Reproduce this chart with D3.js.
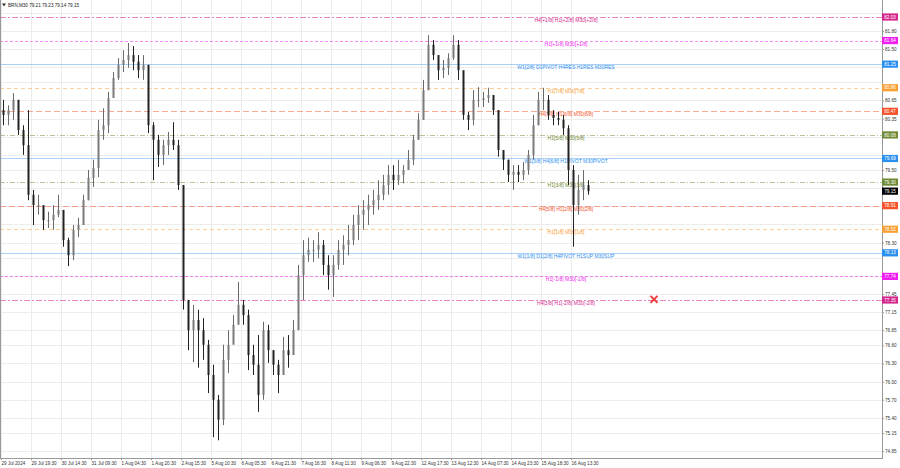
<!DOCTYPE html>
<html><head><meta charset="utf-8">
<script src="https://cdn.jsdelivr.net/npm/d3@7"></script>
<style>
html,body{margin:0;padding:0;background:#fff;}
svg{display:block;font-family:"Liberation Sans",Arial,sans-serif;}
</style></head><body>
<svg id="c" width="900" height="468"></svg>
<script>
// ---------------- DATA ----------------
const symbolTitle = "BRN,M30  79.21 79.23 79.14 79.15";
const highP = [80.66,80.57,80.77,80.66,80.24,80.49,79.17,79.09,78.84,78.81,78.92,79.09,78.59,78.38,78.59,78.71,79.09,79.50,79.67,80.33,
80.52,80.79,81.12,81.35,81.48,81.60,81.55,81.40,81.40,81.15,80.29,80.08,80.00,80.13,80.29,80.00,79.25,77.35,77.27,77.19,
77.05,76.69,76.28,75.78,76.61,76.85,77.10,77.65,77.35,77.19,76.61,76.77,76.99,76.94,76.52,76.36,76.74,76.77,77.02,77.93,
78.34,78.38,78.34,78.47,78.34,78.09,78.09,78.34,78.42,78.59,78.76,78.92,79.00,79.09,79.17,79.33,79.42,79.58,79.58,79.67,
79.58,79.83,80.08,80.44,80.99,81.73,81.65,81.40,81.32,81.43,81.73,81.65,81.07,80.46,80.82,80.87,80.79,80.86,80.66,80.49,
79.83,79.67,79.58,79.58,79.63,79.83,80.41,80.79,80.86,80.74,80.49,80.46,80.41,80.24,79.58,79.42,79.50,79.33];
const lowP = [80.24,80.24,80.33,80.08,79.75,79.00,78.59,78.76,78.51,78.54,78.51,78.72,78.23,77.91,78.01,78.39,78.67,79.00,79.22,79.38,
80.00,80.11,80.74,80.99,81.12,81.19,81.15,81.02,80.99,80.11,79.33,79.55,79.58,79.75,79.83,79.17,77.19,76.52,76.32,76.23,
76.36,75.81,75.08,75.03,75.28,76.14,76.69,77.02,76.94,76.19,76.11,75.50,75.70,76.31,76.11,75.81,76.19,76.23,76.52,77.02,
77.35,77.98,77.98,78.04,77.76,77.52,77.40,77.85,77.93,78.09,78.26,78.34,78.51,78.59,78.76,78.84,79.00,79.09,79.17,79.25,
79.28,79.50,79.58,80.00,80.33,80.82,81.32,80.99,81.02,81.07,81.32,80.99,80.33,80.16,80.24,80.54,80.54,80.61,80.41,79.72,
79.50,79.30,79.17,79.30,79.33,79.42,79.67,80.24,80.49,80.33,80.24,80.24,80.08,79.25,78.23,78.76,79.00,79.09];
const closeP = [80.41,80.49,80.66,80.16,79.91,79.09,78.92,78.92,78.67,78.67,78.76,78.84,78.34,78.09,78.51,78.59,79.00,79.37,79.53,80.16,
80.24,80.69,81.02,81.24,81.32,81.40,81.29,81.15,81.24,80.24,80.00,79.75,79.91,80.00,79.91,79.25,77.35,76.85,77.02,76.85,
76.61,76.11,75.70,75.37,76.36,76.61,76.94,77.27,77.10,76.44,76.28,75.78,76.85,76.52,76.28,76.11,76.52,76.44,76.85,77.76,
78.09,78.18,78.18,78.26,77.93,77.76,77.93,78.18,78.26,78.34,78.59,78.76,78.84,78.92,79.00,79.09,79.25,79.42,79.33,79.42,
79.50,79.67,80.00,80.33,80.82,81.57,81.40,81.15,81.19,81.35,81.57,81.15,80.41,80.33,80.66,80.66,80.69,80.74,80.49,79.83,
79.67,79.42,79.47,79.42,79.50,79.75,80.24,80.66,80.66,80.41,80.36,80.33,80.19,79.50,78.92,79.17,79.25,79.15];
const openP = [80.49].concat(closeP.slice(0, -1));

const timeLabels = ["29 Jul 2024","29 Jul 19:30","30 Jul 14:30","31 Jul 09:30","1 Aug 04:30","1 Aug 20:30","2 Aug 15:30",
"5 Aug 10:30","6 Aug 05:30","6 Aug 21:30","7 Aug 16:30","8 Aug 11:30","9 Aug 06:30","9 Aug 22:30","12 Aug 17:30",
"13 Aug 12:30","14 Aug 07:30","14 Aug 23:30","15 Aug 18:30","16 Aug 13:30"];
const timeSlots = [0,6,12,18,24,30,36,42,48,54,60,66,72,78,84,90,96,102,108,114];

const priceTicks = [82.10,81.80,81.50,81.20,80.95,80.65,80.35,80.05,79.75,79.50,79.20,78.90,78.60,78.30,78.05,77.75,
77.45,77.15,76.85,76.60,76.30,76.00,75.70,75.40,75.15,74.85];

const levelPrices = [82.03,81.64,81.25,80.86,80.47,80.08,79.69,79.30,78.91,78.52,78.13,77.74,77.35];
const levelTexts = ["H4[+1/8] H1[+2/8] M30[+2/8]","H1[+1/8] M30[+1/8]","W1[2/8] D1PIVOT H4RES H1RES M30RES",
"H1[7/8] M30[7/8]","H4[7/8] H1[6/8] M30[6/8]","H1[5/8] M30[5/8]","W1[3/8] H4[6/8] H1PIVOT M30PIVOT",
"H1[3/8] M30[3/8]","H4[5/8] H1[2/8] M30[2/8]","H1[1/8] M30[1/8]","W1[1/8] D1[2/8] H4PIVOT H1SUP M30SUP",
"H1[-1/8] M30[-1/8]","H4[3/8] H1[-2/8] M30[-2/8]"];
const levelKinds = ["pink","magenta","blue","orange","orangered","olive","blue","olive","orangered","orange","blue","magenta","pink"];

const lastPrice = 79.15;
const markerSlot = 130.6, markerPrice = 77.36;

// ---------------- STYLE ----------------
const kindStyle = {
  pink:     {c:"#d4278e", dash:"6,2,2,2", op:0.55},
  magenta:  {c:"#f01cf0", dash:"3,2", op:0.5},
  blue:     {c:"#2b8ff0", dash:null, op:0.4},
  orange:   {c:"#f7a033", dash:"4,3", op:0.5},
  orangered:{c:"#f4522a", dash:"6,3", op:0.5},
  olive:    {c:"#6f8a34", dash:"5,2,1,2", op:0.5}
};

const plotR = 882, plotB = 458;
const svg = d3.select("#c");

const x = d3.scaleLinear().domain([0, 176.2]).range([1, plotR]);
const y = d3.scaleLinear().domain([74.737, 82.311]).range([plotB, 0]);

// grid
const g = svg.append("g");
g.selectAll("line.hg").data(priceTicks).join("line")
  .attr("x1",0).attr("x2",plotR).attr("y1",d=>Math.round(y(d))+0.5).attr("y2",d=>Math.round(y(d))+0.5)
  .attr("stroke","#ececec").attr("stroke-width",1);
g.selectAll("line.vg").data(timeSlots).join("line")
  .attr("y1",0).attr("y2",plotB).attr("x1",d=>Math.round(x(d))+0.5).attr("x2",d=>Math.round(x(d))+0.5)
  .attr("stroke","#ececec").attr("stroke-width",1);

// level lines
const lv = svg.append("g");
levelPrices.forEach((p,i)=>{
  const s = kindStyle[levelKinds[i]];
  const yy = Math.round(y(p))+0.5;
  lv.append("line").attr("x1",0).attr("x2",plotR).attr("y1",yy).attr("y2",yy)
    .attr("stroke",s.c).attr("stroke-opacity",s.op).attr("stroke-width",1)
    .attr("stroke-dasharray",s.dash);
});

// candles
const idx = d3.range(closeP.length);
const cg = svg.append("g");
cg.selectAll("line.w").data(idx).join("line")
  .attr("x1",i=>x(i+0.5)).attr("x2",i=>x(i+0.5))
  .attr("y1",i=>y(highP[i])).attr("y2",i=>y(lowP[i]))
  .attr("stroke",i=>closeP[i]>=openP[i]?"#6a6a6a":"#222").attr("stroke-width",1);
cg.selectAll("rect.b").data(idx).join("rect")
  .attr("x",i=>x(i+0.5)-1).attr("width",2)
  .attr("y",i=>Math.min(y(openP[i]),y(closeP[i])))
  .attr("height",i=>Math.max(1,Math.abs(y(openP[i])-y(closeP[i]))))
  .attr("fill",i=>closeP[i]>=openP[i]?"#7a7a7a":"#222");

// level texts
lv.selectAll("text").data(levelPrices).join("text")
  .attr("x",566).attr("y",p=>y(p)+5)
  .attr("text-anchor","middle").attr("font-size",5)
  .attr("fill",(p,i)=>kindStyle[levelKinds[i]].c)
  .text((p,i)=>levelTexts[i]);

// frame
svg.append("line").attr("x1",0.5).attr("x2",0.5).attr("y1",0).attr("y2",plotB).attr("stroke","#999");
svg.append("line").attr("x1",plotR+0.5).attr("x2",plotR+0.5).attr("y1",0).attr("y2",plotB+1).attr("stroke","#999");
svg.append("line").attr("x1",0).attr("x2",plotR+1).attr("y1",plotB+0.5).attr("y2",plotB+0.5).attr("stroke","#999");

// price axis (labels hidden behind level boxes are not drawn, as in the terminal)
const boxPrices = levelPrices.concat([lastPrice]);
const visibleTicks = priceTicks.filter(t => boxPrices.every(b => Math.abs(y(b)-y(t)) > 6));
const ya = svg.append("g").attr("transform",`translate(${plotR},0)`)
  .call(d3.axisRight(y).tickValues(visibleTicks).tickFormat(d3.format(".2f")).tickSize(2).tickPadding(1));
ya.select(".domain").remove();
ya.selectAll("line").attr("stroke","#999");
ya.selectAll("text").attr("font-size",4.6).attr("fill","#333").attr("font-family","Liberation Sans, Arial, sans-serif");

// time axis
const xa = svg.append("g").attr("transform",`translate(0,${plotB})`)
  .call(d3.axisBottom(x).tickValues(timeSlots).tickFormat((d,i)=>timeLabels[i]).tickSize(2).tickPadding(1.5));
xa.select(".domain").remove();
xa.selectAll("line").attr("stroke","#999");
xa.selectAll("text").attr("font-size",4.6).attr("fill","#333").attr("text-anchor","start")
  .attr("font-family","Liberation Sans, Arial, sans-serif");

// level boxes
const bx = svg.append("g");
levelPrices.forEach((p,i)=>{
  const s = kindStyle[levelKinds[i]];
  const yy = y(p);
  bx.append("rect").attr("x",plotR).attr("y",yy-3.6).attr("width",16).attr("height",7.2).attr("fill",s.c);
  bx.append("text").attr("x",plotR+8).attr("y",yy+1.6).attr("text-anchor","middle")
    .attr("font-size",4.6).attr("fill","#fff").text(p.toFixed(2));
});
bx.append("rect").attr("x",plotR).attr("y",y(lastPrice)-3.6).attr("width",16).attr("height",7.2).attr("fill","#000");
bx.append("text").attr("x",plotR+8).attr("y",y(lastPrice)+1.6).attr("text-anchor","middle")
  .attr("font-size",4.6).attr("fill","#fff").text(lastPrice.toFixed(2));

// marker
const mx = x(markerSlot), my = y(markerPrice);
svg.append("path").attr("d",`M${mx-3.5},${my-3.5}L${mx+3.5},${my+3.5}M${mx+3.5},${my-3.5}L${mx-3.5},${my+3.5}`)
  .attr("stroke","#ee3b3b").attr("stroke-width",2);

// title
svg.append("path").attr("d","M2,3.5L6,3.5L4,6.5Z").attr("fill","#333");
svg.append("text").attr("x",8).attr("y",7).attr("font-size",4.6).attr("fill","#222").text(symbolTitle);
</script>
</body></html>
